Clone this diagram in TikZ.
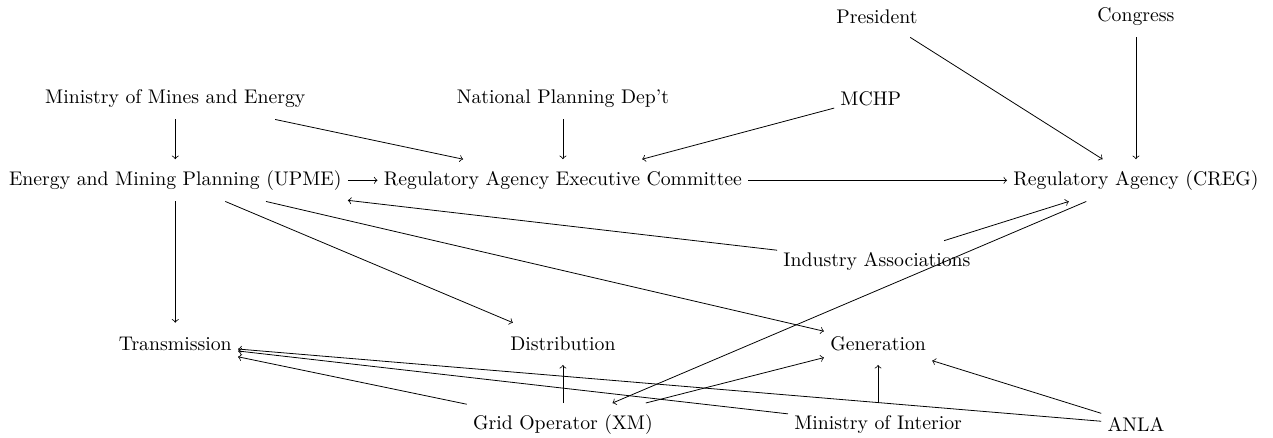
\documentclass[tikz,border=0pt]{standalone}
\usepackage{tikz}

\begin{document}
\begin{tikzpicture}[auto,
    agency/.style ={inner xsep=3pt, inner ysep=0pt, minimum height=21pt}]
   \useasboundingbox (0,0) rectangle (22.66,7.78);

   \node[agency] (PRES) at (15.61,7.49) {President};
   \node[agency] (CONG) at (20.22,7.49) {Congress};

   \node[agency] (MME)  at (3.12,6.03)  {Ministry of Mines and Energy};
   \node[agency] (DNP)  at (10.02,6.03) {National Planning Dep't};
   \node[agency] (MCHP) at (15.50,6.03) {MCHP};

   \node[agency] (UPME) at (3.12,4.57)  {Energy and Mining Planning (UPME)};
   \node[agency] (CMT)  at (10.02,4.57) {Regulatory Agency Executive Committee};
   \node[agency] (CREG) at (20.22,4.57) {Regulatory Agency (CREG)};

   \node[agency] (IA)   at (15.61,3.12) {Industry Associations};

   \node[agency] (TX)   at (3.12,1.66)  {Transmission};
   \node[agency] (DX)   at (10.02,1.66) {Distribution};
   \node[agency] (GX)   at (15.63,1.66) {Generation};

   \node[agency] (XM)   at (10.02,0.23) {Grid Operator (XM)};
   \node[agency] (MI)   at (15.63,0.23) {Ministry of Interior};
   \node[agency] (ANLA) at (20.22,0.23) {ANLA};


   \draw[->] (PRES) to (CREG);
   \draw[->] (CONG) to (CREG);
   \draw[->] (MME) to (UPME);
   \draw[->] (MME) to (CMT);
   \draw[->] (DNP) to (CMT);
   \draw[->] (MCHP) to (CMT);
   \draw[->] (UPME) to (CMT);
   \draw[->] (CMT) to (CREG);
   \draw[->] (IA) to (UPME);
   \draw[->] (IA) to (CREG);
   \draw[->] (UPME) to (TX);
   \draw[->] (UPME) to (DX);
   \draw[->] (UPME) to (GX);
   \draw[->] (CREG) to (XM);
   \draw[->] (XM) to (TX);
   \draw[->] (XM) to (DX);
   \draw[->] (XM) to (GX);
   \draw[->] (MI) to (TX);
   \draw[->] (MI) to (GX);
   \draw[->] (ANLA) to (TX);
   \draw[->] (ANLA) to (GX);
 \end{tikzpicture}
\end{document}
